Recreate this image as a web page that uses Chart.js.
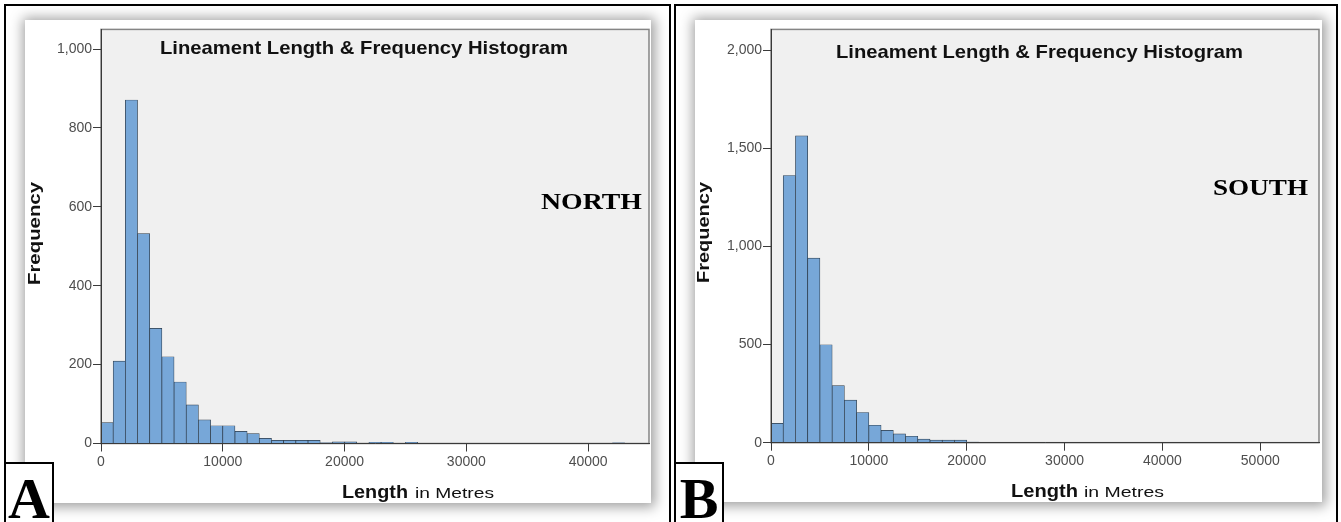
<!DOCTYPE html>
<html>
<head>
<meta charset="utf-8">
<script src="https://cdn.jsdelivr.net/npm/chart.js@4.4.0/dist/chart.umd.min.js"></script>
<style>
  html, body { margin: 0; padding: 0; background: #fff; }
  body { position: relative; width: 1341px; height: 522px; overflow: hidden; }
  .frame { position: absolute; top: 4px; height: 540px; border: 2px solid #000; box-sizing: border-box; }
  #frameA { left: 4px; width: 667px; }
  #frameB { left: 674px; width: 664px; }
  .card { position: absolute; background: #fff; box-shadow: 1px 1px 12px 3px rgba(0,0,0,0.38); }
  #cardA { left: 25px; top: 20px; width: 626px; height: 483px; }
  #cardB { left: 695px; top: 20px; width: 627px; height: 482px; }
  .card canvas { position: absolute; left: 0; top: 0; }
  .tag { position: absolute; top: 462px; width: 50px; height: 70px; border: 2px solid #000; box-sizing: border-box;
         background: #fff; font: bold 58px "Liberation Serif", "Times New Roman", serif; line-height: 69px;
         text-align: center; color: #000; }
  #tagA { left: 4px; }
  #tagB { left: 674px; }
</style>
</head>
<body>
<div class="frame" id="frameA"></div>
<div class="frame" id="frameB"></div>
<div class="card" id="cardA"><canvas id="chartA" width="626" height="483"></canvas></div>
<div class="card" id="cardB"><canvas id="chartB" width="627" height="482"></canvas></div>
<div class="tag" id="tagA">A</div>
<div class="tag" id="tagB">B</div>
<script>
// Lineament length histograms (frequency per length bin, metres)
const northBinWidth = 1000;
const northCounts = [53, 209, 871, 532, 292, 220, 156, 98, 60, 45, 45, 31, 25, 13, 8, 8, 8, 8, 2, 4, 4, 1, 3, 3, 1, 3,
                     0, 0, 1, 1, 0, 0, 1, 1, 1, 0, 0, 0, 0, 0, 0, 0, 2, 0, 0];
const southBinWidth = 1250;
const southCounts = [99, 1361, 1563, 940, 499, 291, 217, 154, 89, 63, 45, 33, 18, 13, 13, 13, 3, 2, 2, 1, 1, 1, 2, 1, 2,
                     1, 0, 1, 0, 1, 0, 0, 0, 1, 0, 0, 1, 0, 0, 0, 0, 0, 0, 0, 0];

const northXTicks = [0, 10000, 20000, 30000, 40000];
const southXTicks = [0, 10000, 20000, 30000, 40000, 50000];
const northYTicks = [0, 200, 400, 600, 800, 1000];
const southYTicks = [0, 500, 1000, 1500, 2000];

const chartTitle = 'Lineament Length & Frequency Histogram';
const yTitle = 'Frequency';
const xTitleBold = 'Length';
const xTitleRest = 'in Metres';

const SANS = '"Liberation Sans", Arial, sans-serif';
const SERIF = '"Liberation Serif", "Times New Roman", serif';

function binPoints(counts, width) {
  return counts.map((c, i) => ({ x: i * width + width / 2, y: c }));
}

// draw text horizontally stretched to a given width
function fitText(ctx, text, x, y, w, font) {
  ctx.save();
  ctx.font = font;
  ctx.textAlign = 'left';
  ctx.textBaseline = 'alphabetic';
  const m = ctx.measureText(text).width;
  ctx.translate(x, y);
  ctx.scale(w / m, 1);
  ctx.fillText(text, 0, 0);
  ctx.restore();
}

function fitTextUp(ctx, text, x, yBottom, len, font) {
  ctx.save();
  ctx.font = font;
  ctx.textAlign = 'left';
  ctx.textBaseline = 'alphabetic';
  const m = ctx.measureText(text).width;
  ctx.translate(x, yBottom);
  ctx.rotate(-Math.PI / 2);
  ctx.scale(len / m, 1);
  ctx.fillText(text, 0, 0);
  ctx.restore();
}

const plotBackground = {
  id: 'plotBackground',
  beforeDraw(chart) {
    const { ctx, chartArea: a } = chart;
    ctx.save();
    ctx.fillStyle = '#f0f0f0';
    ctx.fillRect(a.left, a.top, a.right - a.left, a.bottom - a.top);
    ctx.strokeStyle = '#858585';
    ctx.lineWidth = 1.5;
    ctx.strokeRect(a.left, a.top, a.right - a.left, a.bottom - a.top);
    ctx.restore();
  }
};

function makeLabels(cfg) {
  return {
    id: 'labels',
    afterDraw(chart) {
      const ctx = chart.ctx;
      ctx.save();
      ctx.fillStyle = '#111';
      fitText(ctx, chartTitle, cfg.title[0], cfg.title[1], cfg.title[2], 'bold 18.5px ' + SANS);
      ctx.fillStyle = '#000';
      fitText(ctx, cfg.region, cfg.regionPos[0], cfg.regionPos[1], cfg.regionPos[2], 'bold 23px ' + SERIF);
      ctx.fillStyle = '#111';
      fitTextUp(ctx, yTitle, cfg.yTitle[0], cfg.yTitle[1], cfg.yTitle[2], 'bold 17px ' + SANS);
      fitText(ctx, xTitleBold, cfg.xBold[0], cfg.xBold[1], cfg.xBold[2], 'bold 17.5px ' + SANS);
      fitText(ctx, xTitleRest, cfg.xRest[0], cfg.xRest[1], cfg.xRest[2], '15px ' + SANS);
      ctx.restore();
    }
  };
}

function buildChart(id, counts, binWidth, xMax, yMax, xTicks, yTicks, layout, cfg) {
  const tickFont = { family: SANS, size: 14 };
  return new Chart(document.getElementById(id), {
    type: 'bar',
    data: {
      datasets: [{
        data: binPoints(counts, binWidth),
        backgroundColor: '#77a7d8',
        borderColor: '#2c3a48',
        borderWidth: 0.7,
        barPercentage: 1,
        categoryPercentage: 1
      }]
    },
    options: {
      responsive: false,
      animation: false,
      devicePixelRatio: 1,
      layout: { padding: { top: layout.top, right: layout.right, left: 0, bottom: 0 } },
      plugins: { legend: { display: false }, tooltip: { enabled: false }, title: { display: false } },
      scales: {
        x: {
          type: 'linear',
          offset: false,
          min: 0,
          max: xMax,
          afterBuildTicks: s => { s.ticks = xTicks.map(v => ({ value: v })); },
          afterFit: s => { s.height = layout.xHeight; },
          ticks: { font: tickFont, color: '#4e4e4e', padding: 2, maxRotation: 0, autoSkip: false,
                   callback: v => String(v) },
          grid: { offset: false, drawOnChartArea: false, drawTicks: true, tickLength: 8, color: '#3a3a3a', lineWidth: 1 },
          border: { display: true, color: '#3a3a3a', width: 1, z: 1 }
        },
        y: {
          min: 0,
          max: yMax,
          afterBuildTicks: s => { s.ticks = yTicks.map(v => ({ value: v })); },
          afterFit: s => { s.width = layout.yWidth; },
          ticks: { font: tickFont, color: '#4e4e4e', padding: 1,
                   callback: v => v.toLocaleString('en-US') },
          grid: { drawOnChartArea: false, drawTicks: true, tickLength: 8, color: '#3a3a3a', lineWidth: 1 },
          border: { display: true, color: '#3a3a3a', width: 1, z: 1 }
        }
      }
    },
    plugins: [plotBackground, makeLabels(cfg)]
  });
}

buildChart('chartA', northCounts, northBinWidth, 45000, 1050, northXTicks, northYTicks,
  { top: 3, right: 2, yWidth: 76, xHeight: 59.5 },
  { title: [135, 34, 408], region: 'NORTH', regionPos: [516, 189, 101],
    yTitle: [15, 265, 103], xBold: [317, 477.5, 66], xRest: [390, 477.5, 79] });

buildChart('chartB', southCounts, southBinWidth, 56000, 2105, southXTicks, southYTicks,
  { top: 2, right: 3, yWidth: 76, xHeight: 59.3 },
  { title: [141, 38, 407], region: 'SOUTH', regionPos: [518, 175, 95],
    yTitle: [14, 263, 101], xBold: [316, 476.7, 67], xRest: [389, 476.7, 80] });
</script>
</body>
</html>
